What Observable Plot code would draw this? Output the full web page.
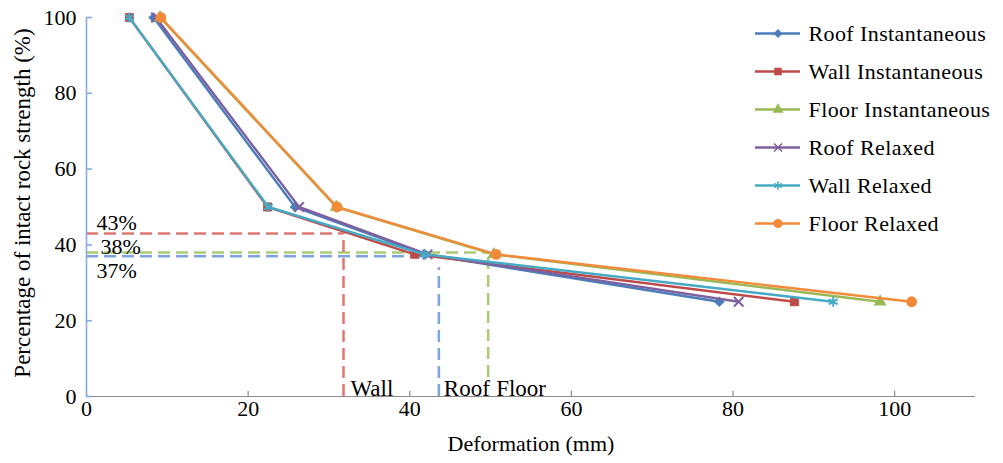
<!DOCTYPE html>
<html>
<head>
<meta charset="utf-8">
<script src="https://cdn.jsdelivr.net/npm/d3@7"></script>
<script src="https://cdn.jsdelivr.net/npm/@observablehq/plot@0.6"></script>
<style>
  body { margin: 0; background: #fff; }
  #chart { position: relative; width: 1003px; height: 463px; font-family: "Liberation Serif", "Times New Roman", serif; }
  #chart svg { position: absolute; top: 0; overflow: visible; }
  #chart svg.legend text { letter-spacing: 0.4px; }
</style>
</head>
<body>
<div id="chart"></div>
<script>
// Rock strength levels (% of intact strength) shared by every series
const strength = [100, 50, 37.5, 25];

// Deformation (mm) at each strength level
const roofInstantaneous  = [8.3, 25.8, 41.9, 78.3];
const wallInstantaneous  = [5.3, 22.4, 40.6, 87.6];
const floorInstantaneous = [9.1, 30.9, 50.4, 98.2];
const roofRelaxed        = [8.6, 26.3, 42.2, 80.7];
const wallRelaxed        = [5.3, 22.5, 41.8, 92.4];
const floorRelaxed       = [9.2, 31.0, 50.7, 102.1];

const seriesNames = [
  "Roof Instantaneous", "Wall Instantaneous", "Floor Instantaneous",
  "Roof Relaxed", "Wall Relaxed", "Floor Relaxed"
];
const seriesValues = [
  roofInstantaneous, wallInstantaneous, floorInstantaneous,
  roofRelaxed, wallRelaxed, floorRelaxed
];

const guideNames = ["Wall", "Roof", "Floor"];
const guideLevels = [43, 37, 38];
const guideDeformation = [31.8, 43.6, 49.7];
const guideHorizontalEnd = [31.8, 42.5, 49.7];   // where each horizontal dash stops
const guideVerticalTop = [43, 34, 38];           // where each vertical dash starts
const guideVerticalBottom = [0, 0, 5];           // where each vertical dash stops

// Axis ticks and titles
const xTicks = [0, 20, 40, 60, 80, 100];
const yTicks = [0, 20, 40, 60, 80, 100];
const xTitle = "Deformation (mm)";
const yTitle = "Percentage of intact rock strength (%)";

// Styling
const seriesColors = ["#4A7EBB", "#BE4B48", "#98B954", "#7D60A0", "#46AAC5", "#F38A3A"];
const seriesSymbols = ["diamond2", "square", "triangle", "times", "asterisk", "circle"];
const seriesStroked = [false, false, false, true, true, false];
const seriesRadius = [4.8, 5.0, 4.8, 4.4, 4.8, 5.4];
const guideColors = ["#E07672", "#7EA4DC", "#AACB74"];
const axisBlue = "#86AADF";
const axisGray = "#8C8C8C";
const font = "Liberation Serif";

const rows = seriesNames.flatMap((series, i) =>
  seriesValues[i].map((deformation, j) => ({series, deformation, strength: strength[j]}))
);
const guides = guideNames.map((name, i) => ({
  name,
  level: guideLevels[i],
  deformation: guideDeformation[i],
  hEnd: guideHorizontalEnd[i],
  vTop: guideVerticalTop[i],
  vBottom: guideVerticalBottom[i],
  color: guideColors[i]
}));

const dash = "12,6";
const seriesMarks = seriesNames.flatMap((name, i) => {
  const data = rows.filter(d => d.series === name);
  return [
    Plot.line(data, {x: "deformation", y: "strength", stroke: seriesColors[i], strokeWidth: 2.4}),
    Plot.dot(data, {
      x: "deformation", y: "strength", symbol: () => name, r: seriesRadius[i],
      fill: seriesStroked[i] ? "none" : seriesColors[i],
      stroke: seriesStroked[i] ? seriesColors[i] : "none",
      strokeWidth: seriesStroked[i] ? 2 : 0
    })
  ];
});

const levelLabel = (name, options) =>
  Plot.text(guides.filter(d => d.name === name), {
    x: 0, y: "level", text: d => d.level + "%", textAnchor: "start", fontSize: 22, ...options
  });
const nameLabel = (name, dx) =>
  Plot.text(guides.filter(d => d.name === name), {
    x: "deformation", y: 0, text: "name", textAnchor: "start", dx, dy: -8, fontSize: 23
  });

const main = Plot.plot({
  width: 1003,
  height: 463,
  marginLeft: 86,
  marginRight: 28,
  marginTop: 17,
  marginBottom: 67,
  style: {fontFamily: font, fontSize: "22px", color: "#000", background: "transparent"},
  x: {domain: [0, 110]},
  y: {domain: [0, 100]},
  symbol: {domain: seriesNames, range: seriesSymbols},
  marks: [
    // dashed guides
    Plot.ruleY(guides, {y: "level", x1: 0, x2: "hEnd", stroke: "color", strokeWidth: 2.5, strokeDasharray: dash}),
    Plot.ruleX(guides, {x: "deformation", y1: "vBottom", y2: "vTop", stroke: "color", strokeWidth: 2.5, strokeDasharray: dash}),
    // axis lines and inside tick marks
    Plot.ruleY([0], {x1: 0, x2: 110, stroke: axisGray, strokeWidth: 1.2}),
    Plot.ruleX(xTicks, {x: d => d, y1: 0, y2: 1.4, stroke: axisGray, strokeWidth: 1.2}),
    Plot.ruleX([0], {y1: 0, y2: 100, stroke: axisBlue, strokeWidth: 1.6}),
    Plot.ruleY(yTicks, {y: d => d, x1: 0, x2: 0.75, stroke: axisBlue, strokeWidth: 1.6}),
    Plot.axisY({ticks: yTicks, tickSize: 0, tickPadding: 10, fontSize: 22, label: null}),
    Plot.axisX({
      ticks: xTicks, tickSize: 0, tickPadding: 4, fontSize: 22,
      label: xTitle, labelAnchor: "center", labelArrow: "none", labelOffset: 54
    }),
    Plot.text([yTitle], {
      frameAnchor: "left", text: d => d, rotate: -90, textAnchor: "middle",
      dx: -64, dy: -4, fontSize: 23
    }),
    // guide labels
    levelLabel("Wall", {dx: 10, dy: -11}),
    levelLabel("Floor", {dx: 14, dy: -6}),
    levelLabel("Roof", {dx: 10, dy: 15}),
    nameLabel("Wall", 7),
    nameLabel("Roof", 5),
    nameLabel("Floor", 8),
    // series
    ...seriesMarks
  ]
});

const legend = Plot.plot({
  width: 250,
  height: 240,
  margin: 0,
  style: {fontFamily: font, fontSize: "22px", color: "#000", background: "transparent"},
  x: {domain: [0, 250], range: [0, 250], axis: null},
  y: {type: "point", domain: seriesNames, range: [33, 223], padding: 0, axis: null},
  symbol: {domain: seriesNames, range: seriesSymbols},
  marks: [
    ...seriesNames.flatMap((name, i) => [
      Plot.ruleY([name], {x1: 7, x2: 52, stroke: seriesColors[i], strokeWidth: 2.3}),
      Plot.dot([name], {
        x: 29.5, y: d => d, symbol: d => d, r: seriesRadius[i] * 0.85,
        fill: seriesStroked[i] ? "none" : seriesColors[i],
        stroke: seriesStroked[i] ? seriesColors[i] : "none",
        strokeWidth: seriesStroked[i] ? 1.6 : 0
      })
    ]),
    Plot.text(seriesNames, {x: 60, y: d => d, text: d => d, textAnchor: "start", fontSize: 22})
  ]
});
legend.classList.add("legend");

const chart = document.getElementById("chart");
main.style.left = "0px";
legend.style.left = "748px";
chart.appendChild(main);
chart.appendChild(legend);
</script>
</body>
</html>
